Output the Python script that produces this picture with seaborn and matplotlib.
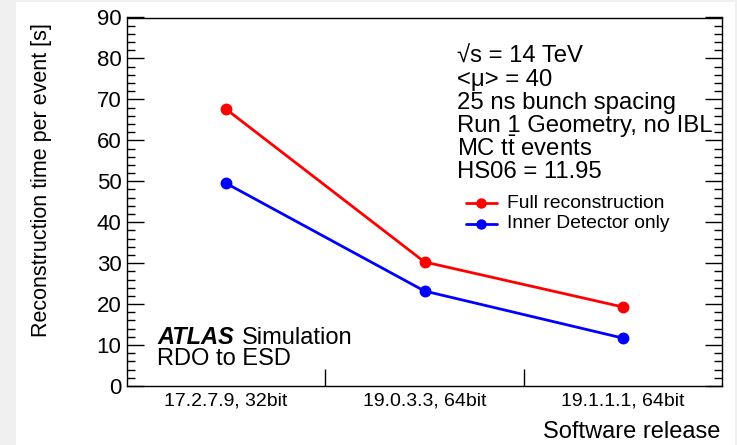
# Tiempo de reconstrucción por evento según la versión del software
# (estilo ATLAS / ROOT)
# =============================================================

import pandas as pd
import matplotlib.pyplot as plt
import matplotlib.patches as mpatches
from matplotlib.ticker import MultipleLocator, FixedLocator
import seaborn as sns

# -------------------------------------------------------------
# DATOS
# -------------------------------------------------------------

versiones = ["17.2.7.9, 32bit", "19.0.3.3, 64bit", "19.1.1.1, 64bit"]
tiempo_completo = [67.6, 30.3, 19.3]
tiempo_id = [49.5, 23.2, 11.7]
series = ["Full reconstruction", "Inner Detector only"]

COLORES = {"Full reconstruction": "#ff0000", "Inner Detector only": "#0000ff"}

# -------------------------------------------------------------
# FIGURA
# -------------------------------------------------------------

sns.set_theme(style="ticks")
plt.rcParams["font.family"] = ["Liberation Sans", "DejaVu Sans"]
plt.rcParams["mathtext.fontset"] = "custom"
plt.rcParams["mathtext.rm"] = "Liberation Sans"
plt.rcParams["text.color"] = "black"
plt.rcParams["xtick.color"] = "black"
plt.rcParams["ytick.color"] = "black"

df = pd.DataFrame({
    "version": versiones * 2,
    "tiempo": tiempo_completo + tiempo_id,
    "serie": [series[0]] * 3 + [series[1]] * 3,
})

fig = plt.figure(figsize=(7.37, 4.45), dpi=100, facecolor="#f0f0f0")
fondo = mpatches.Rectangle((16 / 737, 0), 719 / 737, 443 / 445,
                           transform=fig.transFigure,
                           facecolor="white", edgecolor="none", zorder=-10)
fig.patches.append(fondo)
ax = fig.add_axes([127 / 737, 1 - 386 / 445, (722 - 127) / 737, (386 - 17.5) / 445])
ax.set_facecolor("none")

sns.pointplot(data=df, x="version", y="tiempo", hue="serie",
              palette=COLORES, markers="o", linestyles="-",
              ax=ax, legend=False)
for linea in ax.lines:
    linea.set_linewidth(2.0)
    linea.set_markersize(6.5)

ax.set_xlim(-0.5, 2.5)
ax.set_ylim(0, 90)

# ejes estilo ROOT
for lado in ["top", "right", "left", "bottom"]:
    ax.spines[lado].set_visible(True)
    ax.spines[lado].set_linewidth(1.0)
    ax.spines[lado].set_color("black")

ax.yaxis.set_major_locator(MultipleLocator(10))
ax.yaxis.set_minor_locator(MultipleLocator(2))
ax.tick_params(axis="y", which="major", direction="in", length=12, width=1,
               left=True, right=True, labelsize=16, pad=4)
ax.tick_params(axis="y", which="minor", direction="in", length=6, width=1,
               left=True, right=True)

ax.xaxis.set_minor_locator(FixedLocator([0.5, 1.5]))
ax.tick_params(axis="x", which="major", length=0, labelsize=14, pad=5)
ax.tick_params(axis="x", which="minor", direction="in", length=12, width=1,
               bottom=True, top=False)

ax.set_xlabel("")
ax.set_ylabel("")
fig.text(720 / 737, 1 - 432 / 445, "Software release", fontsize=17,
         ha="right", va="center")
fig.text(42 / 737, 1 - 180 / 445, "Reconstruction time per event [s]",
         fontsize=15.5, rotation=90, ha="center", va="center")

# -------------------------------------------------------------
# TEXTOS
# -------------------------------------------------------------

info = [
    "√s = 14 TeV",
    "<μ> = 40",
    "25 ns bunch spacing",
    "Run 1 Geometry, no IBL",
    r"MC $\mathrm{t\bar{t}}$ events",
    "HS06 = 11.95",
]
for i, texto in enumerate(info):
    fig.text(457 / 737, 1 - (57 + 23 * i) / 445, texto, fontsize=17.2,
             va="center", ha="left")

# leyenda hecha a mano, como en ROOT
for i, nombre in enumerate(series):
    y = 1 - (203 + 21 * i) / 445
    fig.add_artist(plt.Line2D([466 / 737, 497 / 737], [y, y],
                              color=COLORES[nombre], lw=2.0,
                              transform=fig.transFigure))
    fig.add_artist(plt.Line2D([481 / 737], [y], color=COLORES[nombre],
                              marker="o", markersize=6.5, lw=0,
                              transform=fig.transFigure))
    fig.text(507 / 737, y, nombre, fontsize=13.9, va="center", ha="left")

atlas = fig.text(157 / 737, 1 - 338 / 445, "ATLAS", fontsize=17,
                 va="center", ha="left", fontweight="bold",
                 fontstyle="italic")
fig.canvas.draw()
caja = atlas.get_window_extent()
fig.text((caja.x1 + 8) / 737, 1 - 338 / 445, "Simulation", fontsize=17,
         va="center", ha="left")
fig.text(157 / 737, 1 - 359 / 445, "RDO to ESD", fontsize=17, va="center",
         ha="left")

plt.savefig("out.png", dpi=100, facecolor=fig.get_facecolor())
plt.close()
